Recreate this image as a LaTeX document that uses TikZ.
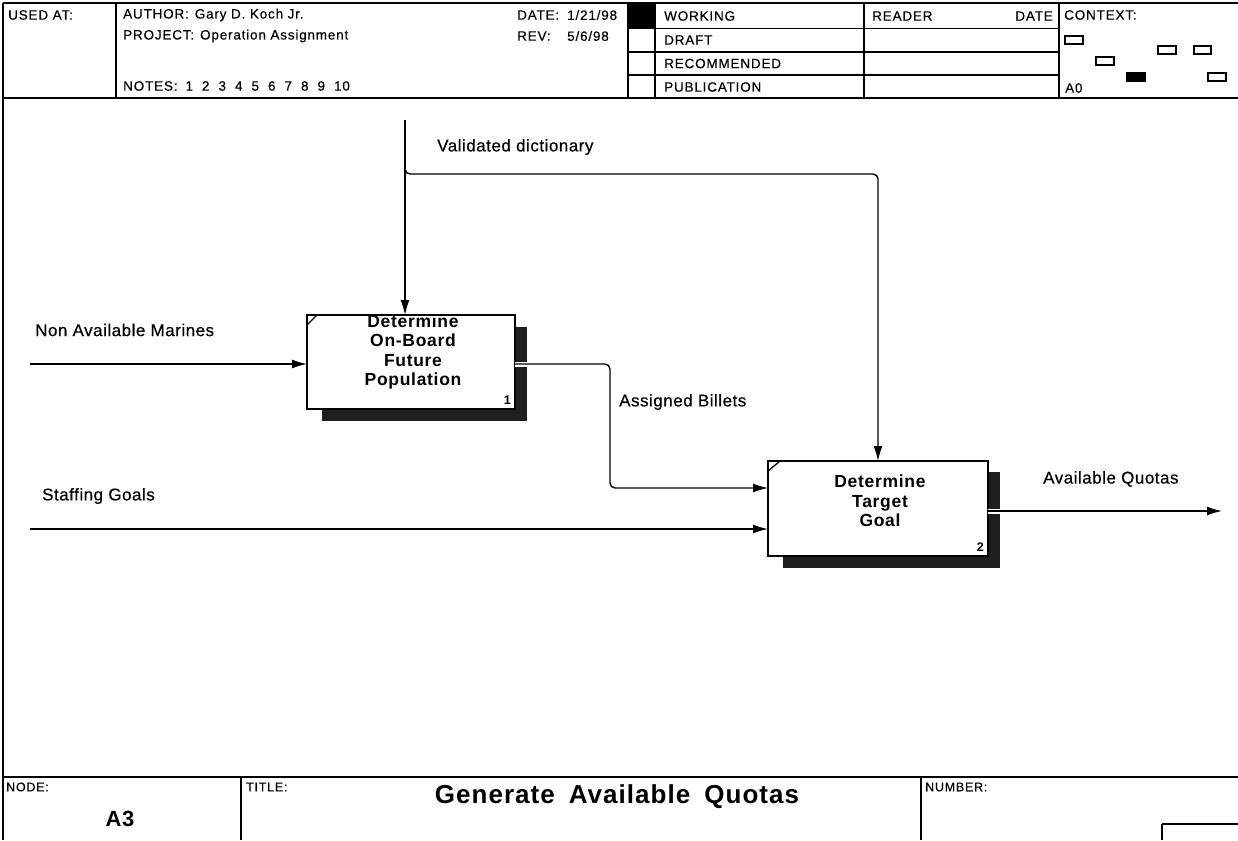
\documentclass[tikz,border=0pt]{standalone}
\usepackage{fontspec}
\setmainfont{Liberation Sans}
\newfontfamily\hdrfont[LetterSpace=6,FakeBold=0.4]{Liberation Sans}
\newfontfamily\lblfont[LetterSpace=3,FakeBold=0.4]{Liberation Sans}
\newfontfamily\bxfont[LetterSpace=4]{Liberation Sans}
\usetikzlibrary{arrows.meta}
\begin{document}
\begin{tikzpicture}[x=1pt,y=-1pt,
  frame/.style={line width=1.4pt},
  hdr/.style={inner sep=0pt, anchor=west, font=\hdrfont\fontsize{13.5}{15}\selectfont},
  small/.style={inner sep=0pt, anchor=west, font=\hdrfont\fontsize{12.5}{14}\selectfont},
  lbl/.style={inner sep=0pt, anchor=west, font=\lblfont\fontsize{17}{19}\selectfont},
  boxtext/.style={inner sep=0pt, align=center, font=\bxfont\bfseries\fontsize{17.5}{19.5}\selectfont},
  actbox/.style={draw, line width=2.4pt, fill=white, anchor=north west, inner sep=0pt, outer sep=0pt},
  shade/.style={fill=black!88, draw=none},
  conn/.style={line width=1.4pt, -{Latex[length=15pt,width=9pt]}},
  ctx/.style={draw, line width=1.5pt, anchor=north west, inner sep=0pt, outer sep=0pt, minimum width=18pt, minimum height=8pt},
]
\useasboundingbox (0,0) rectangle (1238,840);

% ---------- header frame ----------
\draw[frame] (3,3) -- (1238,3);
\draw[frame] (3,98) -- (1238,98);
\draw[frame] (3,3) -- (3,840);
\draw[frame] (116,3) -- (116,98);
\draw[frame] (628,3) -- (628,98);
\draw[frame] (655,3) -- (655,98);
\draw[frame] (864,3) -- (864,98);
\draw[frame] (1059,3) -- (1059,98);
\draw[frame] (628,28.5) -- (1059,28.5);
\draw[frame] (628,52) -- (1059,52);
\draw[frame] (628,75) -- (1059,75);
\fill (628,3) rectangle (655,28.5);

\node[hdr] (usedat) at (8,15) {USED AT:};
\node[hdr] (author) at (123,15) {AUTHOR:\hspace{6pt}Gary D. Koch Jr.};
\node[hdr] (project) at (123,36) {PROJECT:\hspace{6pt}Operation Assignment};
\node[hdr] (notes) at (123,86) {NOTES:\hspace{8pt}1\hspace{9pt}2\hspace{9pt}3\hspace{9pt}4\hspace{9pt}5\hspace{9pt}6\hspace{9pt}7\hspace{9pt}8\hspace{9pt}9\hspace{9pt}10};
\node[hdr] (date) at (517,15) {DATE:};
\node[hdr] (dateval) at (567,15) {1/21/98};
\node[hdr] (rev) at (517,36) {REV:};
\node[hdr] (revval) at (567,36) {5/6/98};
\node[hdr] (working) at (664,16) {WORKING};
\node[hdr] (draft) at (664,40) {DRAFT};
\node[hdr] (recom) at (664,63.5) {RECOMMENDED};
\node[hdr] (publ) at (664,87) {PUBLICATION};
\node[hdr] (reader) at (872,16) {READER};
\node[hdr, anchor=east] (rdate) at (1053,16) {DATE};
\node[hdr] (context) at (1064,15) {CONTEXT:};
\node[hdr] (a0) at (1065,88) {A0};

\node[ctx] (c1) at (1065,36) {};
\node[ctx] (c2) at (1096,57) {};
\node[ctx, fill=black] (c3) at (1127,73) {};
\node[ctx] (c4) at (1158,46) {};
\node[ctx, minimum width=17pt] (c5) at (1194,46) {};
\node[ctx] (c6) at (1208,73) {};

% ---------- footer ----------
\draw[frame] (3,777) -- (1238,777);
\draw[frame] (241,777) -- (241,840);
\draw[frame] (921,777) -- (921,840);
\draw[frame] (1162,824) -- (1238,824);
\draw[frame] (1162,824) -- (1162,840);
\node[small] (nodelbl) at (6,787) {NODE:};
\node[small] (titlelbl) at (246,787) {TITLE:};
\node[small] (numlbl) at (925,787) {NUMBER:};
\node[inner sep=0pt, font=\bxfont\bfseries\fontsize{22}{24}\selectfont] (nodeid) at (120,819) {A3};
\node[inner sep=0pt, font=\bxfont\bfseries\fontsize{26}{28}\selectfont] (title) at (617,797) {Generate\hspace{14pt}Available\hspace{14pt}Quotas};

% ---------- activity boxes ----------
\fill[shade] (322,327) rectangle (527,421);
\fill[shade] (783,472) rectangle (1000,568);
\node[actbox, minimum width=208pt, minimum height=94pt] (b1) at (307,315) {};
\node[actbox, minimum width=220pt, minimum height=95pt] (b2) at (768,461) {};
\draw[line width=1.3pt] ([yshift=-10pt]b1.north west) -- ([xshift=10pt]b1.north west);
\draw[line width=1.3pt] ([yshift=-10pt]b2.north west) -- ([xshift=12pt]b2.north west);
\node[boxtext] (t1) at (413,352) {Determine\\On-Board\\Future\\Population};
\node[boxtext] (t2) at (880,501) {Determine\\Target\\Goal};
\node[inner sep=0pt, anchor=south east, font=\bfseries\fontsize{12.5}{14}\selectfont] (n1) at ([xshift=-4pt,yshift=4pt]b1.south east) {1};
\node[inner sep=0pt, anchor=south east, font=\bfseries\fontsize{12.5}{14}\selectfont] (n2) at ([xshift=-4pt,yshift=4pt]b2.south east) {2};

% ---------- connectors ----------
\coordinate (vtop) at (405,120);
\coordinate (vb0) at (405,166);
\coordinate (vb) at (405,174);
\coordinate (vc) at (878,174);
\coordinate (nin) at (30,364);
\coordinate (sin) at (30,529);
\coordinate (a1) at (610,364);
\coordinate (a2) at (610,488);
\coordinate (qout) at (1222,511);

\draw[conn] (vtop) -- (vtop |- b1.north);
\draw[conn, rounded corners=5pt] (vb0) -- (vb) -- (vc) -- (vc |- b2.north);
\draw[conn] (nin) -- (nin -| b1.west);
\draw[conn] (sin) -- (sin -| b2.west);
\draw[white, line width=5pt] (b1.east |- a1) -- ++(13,0);
\draw[conn, rounded corners=5pt] (b1.east |- a1) -- (a1) -- (a2) -- (a2 -| b2.west);
\draw[white, line width=5pt] (b2.east |- qout) -- ++(13,0);
\draw[conn] (b2.east |- qout) -- (qout);

% ---------- labels ----------
\node[lbl] (lvd) at (437,147) {Validated dictionary};
\node[lbl] (lnam) at (35,330) {Non Available Marines};
\node[lbl] (lab) at (619,402) {Assigned Billets};
\node[lbl] (lsg) at (42,496) {Staffing Goals};
\node[lbl] (laq) at (1043,479) {Available Quotas};
\end{tikzpicture}
\end{document}
